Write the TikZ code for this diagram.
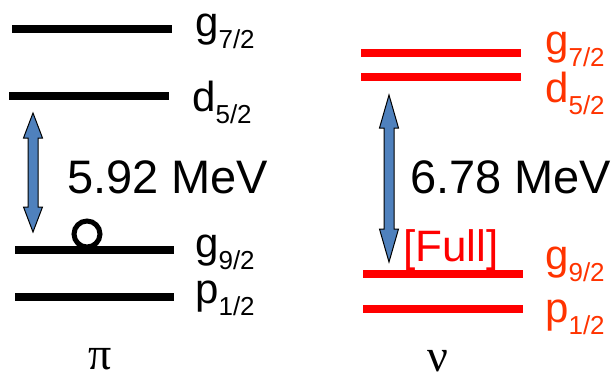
\documentclass[tikz,border=0pt]{standalone}
\usepackage{fontspec}
\setmainfont{Liberation Sans}
\newfontfamily\greekfont{Liberation Serif}
\definecolor{lblred}{HTML}{FF3300}
\definecolor{arrowblue}{HTML}{4F81BD}
\newcommand{\lvl}[2]{{\fontsize{42}{42}\selectfont #1}\raisebox{-12pt}{\fontsize{26}{26}\selectfont #2}}
\newcommand{\blockarrow}[4]{% x, ytop, ybot, headlength
  \draw[fill=arrowblue, line width=1pt, line join=miter]
    (#1,#2) -- (#1+9.5,#2+#4) -- (#1+5,#2+#4) -- (#1+5,#3-#4) -- (#1+9.5,#3-#4)
    -- (#1,#3) -- (#1-9.5,#3-#4) -- (#1-5,#3-#4) -- (#1-5,#2+#4) -- (#1-9.5,#2+#4) -- cycle;}
\begin{document}
\begin{tikzpicture}[x=1pt,y=-1pt,
  lvlline/.style={line width=7.5pt},
  lbl/.style={inner sep=0pt, anchor=base west},
  big/.style={inner sep=0pt, anchor=base west, font=\fontsize{47}{47}\selectfont}]
\useasboundingbox (0,0) rectangle (613,376);
% proton levels
\draw[lvlline] (12,29) -- (172,29);
\draw[lvlline] (9,96) -- (169,96);
\draw[lvlline] (15,250) -- (174,250);
\draw[lvlline] (15,297) -- (174,297);
\node[lbl] (pg7) at (195,36) {\lvl{g}{7/2}};
\node[lbl] (pd5) at (192,111) {\lvl{d}{5/2}};
\node[lbl] (pg9) at (195,257) {\lvl{g}{9/2}};
\node[lbl] (pp1) at (195,303) {\lvl{p}{1/2}};
\blockarrow{33}{113}{232}{25}
\node[big] (pe) at (67,193) {5.92 MeV};
\draw[line width=5pt] (87,234) circle (13);
\node[inner sep=0pt, anchor=base] (pi) at (100,369) {\greekfont\fontsize{46}{46}\selectfont\smash{π}};
% neutron levels
\draw[lvlline, red] (361,53) -- (521,53);
\draw[lvlline, red] (361,77) -- (521,77);
\draw[lvlline, red] (363,274) -- (523,274);
\draw[lvlline, red] (363,309) -- (523,309);
\node[lbl, text=lblred] (ng7) at (545,54) {\lvl{g}{7/2}};
\node[lbl, text=lblred] (nd5) at (545,102) {\lvl{d}{5/2}};
\node[lbl, text=lblred] (ng9) at (545,269) {\lvl{g}{9/2}};
\node[lbl, text=lblred] (np1) at (545,322) {\lvl{p}{1/2}};
\blockarrow{389}{95}{262}{33}
\node[big] (ne) at (410,193) {6.78 MeV};
\node[inner sep=0pt, anchor=base west, text=red, font=\fontsize{44}{44}\selectfont] (full) at (403,261) {[Full]};
\node[inner sep=0pt, anchor=base] (nu) at (438,371) {\greekfont\fontsize{46}{46}\selectfont\smash{ν}};
\end{tikzpicture}
\end{document}
